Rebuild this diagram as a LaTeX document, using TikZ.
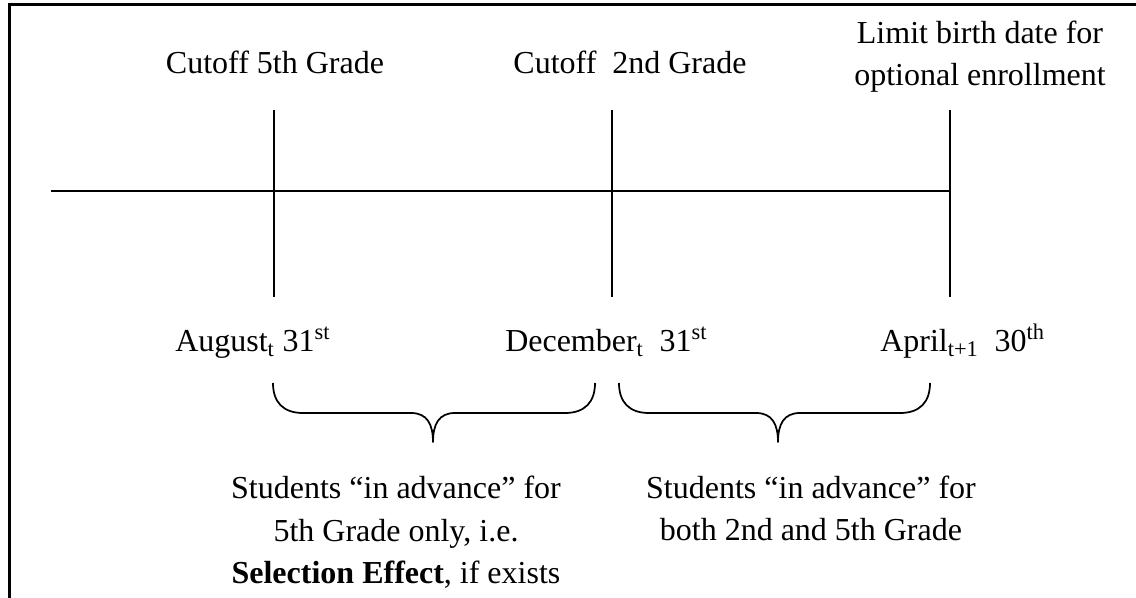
\documentclass[tikz,border=0pt]{standalone}
\usepackage{fontspec}
\setmainfont{Liberation Serif}
\usetikzlibrary{positioning}

\tikzset{
  frame/.style={line width=2.25pt},
  timeline/.style={line width=1.7pt},
  tickline/.style={line width=1.9pt},
  bracepath/.style={line width=1.3pt, line join=round},
  lbl/.style={inner sep=0pt, font=\fontsize{24}{32}\selectfont, align=center},
}

\begin{document}
\begin{tikzpicture}[x=0.75pt, y=-0.75pt]
		\useasboundingbox (0,0) rectangle (1136,598);
		\draw[frame] (1136,5) -- (9,5) -- (9,598);

		% time line and cutoffs
		\coordinate (left) at (51,191);
		\foreach \name/\x in {aug/274, dec/612, apr/950}{
			\coordinate (\name) at (\x,191);
			\coordinate (\name top) at (\x,110);
			\coordinate (\name bot) at (\x,297);
			\draw[tickline] (\name top) -- (\name bot);
		}
		\draw[timeline] (left) -- (apr);

		% labels, base = last line
		\node[lbl, anchor=base] (cut5) at (275,74) {Cutoff 5th Grade};
		\node[lbl, anchor=base] (cut2) at (630,74) {Cutoff\ \ 2nd Grade};
		\node[lbl, anchor=base] (limit) at (980,86) {Limit birth date for\\optional enrollment};

		\node[lbl, anchor=base west] (augdate) at (175,352) {August\textsubscript{t} 31\textsuperscript{st}};
		\node[lbl, anchor=base west] (decdate) at (505,352) {December\textsubscript{t}\ \ 31\textsuperscript{st}};
		\node[lbl, anchor=base west] (aprdate) at (880,352) {April\textsubscript{t+1}\ \ 30\textsuperscript{th}};

		% braces
		\draw[bracepath] (273,383) .. controls (273,402) and (283,413) .. (303,413) -- (411,413)
			.. controls (427,413) and (433,424) .. (433,442) .. controls (433,424) and (439,413) .. (455,413)
			-- (565,413) .. controls (585,413) and (595,402) .. (595,383);
		\draw[bracepath] (619,383) .. controls (619,402) and (629,413) .. (649,413) -- (756,413)
			.. controls (772,413) and (778,424) .. (778,442) .. controls (778,424) and (784,413) .. (800,413)
			-- (900,413) .. controls (920,413) and (930,402) .. (930,383);

		\node[lbl, anchor=base] (only5) at (396,584) {Students “in advance” for\\5th Grade only, i.e.\\\textbf{Selection Effect}, if exists};
		\node[lbl, anchor=base] (both) at (811,541) {Students “in advance” for\\both 2nd and 5th Grade};
	\end{tikzpicture}
\end{document}
